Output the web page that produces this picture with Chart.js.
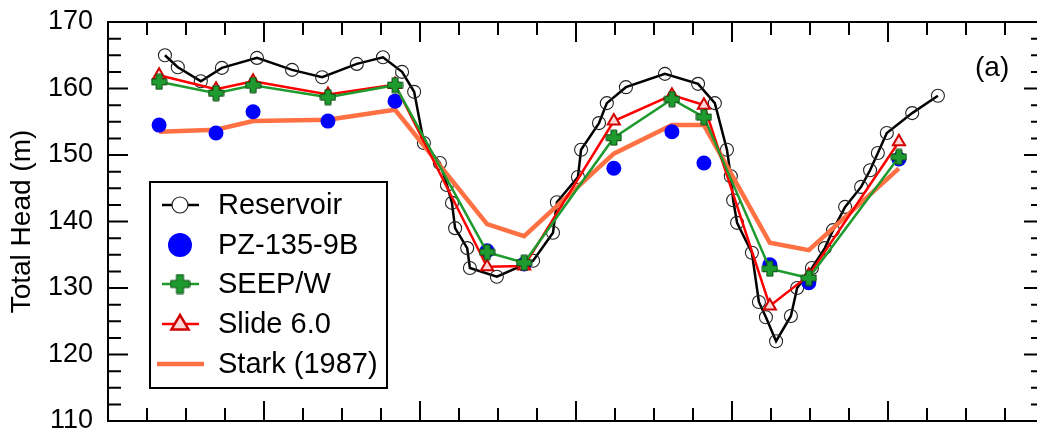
<!DOCTYPE html>
<html><head><meta charset="utf-8">
<script src="https://cdn.jsdelivr.net/npm/chart.js@4/dist/chart.umd.min.js"></script>
<style>html,body{margin:0;padding:0;background:#fff}#wrap{width:1037px;height:432px;position:relative}</style>
</head><body><div id="wrap"><canvas id="c" width="1037" height="432"></canvas></div>
<script>
// ---- data (x in months from start of record) ----
const reservoirX = [1.46,1.79,2.38,2.92,3.82,4.72,5.49,6.38,7.05,7.54,7.85,8.10,8.51,8.69,8.82,8.90,9.21,9.28,9.97,10.90,11.41,11.51,12.05,12.13,12.59,12.79,13.28,14.28,15.13,15.56,15.87,15.97,16.03,16.13,16.51,16.69,16.87,17.13,17.51,17.67,18.05,18.38,18.59,18.90,19.31,19.54,19.74,19.97,20.62,21.28];
const reservoirHead = [165.0,163.2,161.1,163.1,164.6,162.8,161.7,163.7,164.7,162.5,159.5,151.8,148.8,145.5,142.8,139.0,136.0,133.0,131.7,134.1,138.3,142.9,146.7,150.8,154.8,157.8,160.2,162.2,160.7,157.8,150.8,146.8,143.2,139.8,135.3,127.9,125.6,122.0,125.8,130.0,133.0,136.0,138.7,142.2,145.2,147.7,150.3,153.3,156.3,158.9];
const measureX = [1.31,2.77,3.72,5.64,7.36,9.72,10.67,12.97,14.46,15.28,16.97,17.97,20.28];
const pzHead    = [154.5,153.3,156.5,155.1,158.1,135.6,133.6,148.0,153.5,148.8,133.5,130.8,149.4];
const seepHead  = [161.0,159.3,160.5,158.7,160.5,135.4,133.8,152.6,158.4,155.7,132.9,131.5,149.7];
const slideHead = [162.0,159.9,161.1,159.1,160.6,133.2,133.3,155.1,159.0,157.5,127.3,131.9,152.0];
const starkHead = [153.5,153.8,155.1,155.3,156.8,139.6,137.8,150.2,154.5,154.5,136.8,135.7,148.0];
const yTickValues = [110,120,130,140,150,160,170];
const seriesNames = ['Reservoir','PZ-135-9B','SEEP/W','Slide 6.0','Stark (1987)'];
const panelLabel = '(a)';
const yTitle = 'Total Head (m)';

const FONT = "'Liberation Sans', Arial, sans-serif";
const pts = (xs, ys) => xs.map((x, i) => ({x, y: ys[i]}));

function plusImage(size, arm, fill, stroke) {
  const c = document.createElement('canvas');
  c.width = c.height = size;
  const g = c.getContext('2d');
  const m = size / 2, h = arm / 2, e = 1;
  g.beginPath();
  g.moveTo(m - h, e); g.lineTo(m + h, e); g.lineTo(m + h, m - h); g.lineTo(size - e, m - h);
  g.lineTo(size - e, m + h); g.lineTo(m + h, m + h); g.lineTo(m + h, size - e); g.lineTo(m - h, size - e);
  g.lineTo(m - h, m + h); g.lineTo(e, m + h); g.lineTo(e, m - h); g.lineTo(m - h, m - h); g.closePath();
  g.fillStyle = fill; g.fill();
  g.lineWidth = 1; g.strokeStyle = stroke; g.stroke();
  return c;
}
const plusImg = plusImage(17, 6, '#1f9a2e', '#0b4d12');

const datasets = [
  {label: seriesNames[0], data: pts(reservoirX, reservoirHead), borderColor: '#000', borderWidth: 2.5,
   pointStyle: 'circle', pointRadius: 6.5, pointBorderColor: '#222', pointBorderWidth: 1.1,
   pointBackgroundColor: 'rgba(0,0,0,0)', order: 4},
  {label: seriesNames[1], data: pts(measureX, pzHead), showLine: false, borderColor: '#0000ff',
   pointStyle: 'circle', pointRadius: 7.5, pointBackgroundColor: '#0000ff', pointBorderColor: '#0000ff',
   pointBorderWidth: 0, order: 2},
  {label: seriesNames[2], data: pts(measureX, seepHead), borderColor: '#1f9a2e', borderWidth: 2.5,
   pointStyle: plusImg, pointRadius: 8.5, order: 0},
  {label: seriesNames[3], data: pts(measureX, slideHead), borderColor: '#ff0000', borderWidth: 2.5,
   pointStyle: 'triangle', pointRadius: 7, pointBorderColor: '#d00000', pointBorderWidth: 2,
   pointBackgroundColor: '#ffd6d6', order: 1},
  {label: seriesNames[4], data: pts(measureX, starkHead), borderColor: '#ff7043', borderWidth: 4.5,
   pointRadius: 0, order: 3}
];
datasets.forEach(d => { d.tension = 0; d.fill = false; d.clip = false; });

// place the plot frame where the reference has it
const FRAME = {left: 108, top: 22, right: 1044, bottom: 421};
const fixFrame = {
  id: 'fixFrame',
  afterLayout(chart) {
    const a = chart.chartArea;
    a.left = FRAME.left; a.top = FRAME.top; a.right = FRAME.right; a.bottom = FRAME.bottom;
    a.width = a.right - a.left; a.height = a.bottom - a.top;
    const x = chart.scales.x, y = chart.scales.y;
    x.left = a.left; x.right = a.right; x.width = a.width; x.top = a.bottom; x.bottom = a.bottom; x.height = 0;
    y.left = 0; y.right = a.left; y.width = a.left; y.top = a.top; y.bottom = a.bottom; y.height = a.height;
    x.configure(); y.configure();
  }
};

const frameTicks = {
  id: 'frameTicks',
  afterDraw(chart) {
    const {ctx, chartArea: a, scales: {x, y}} = chart;
    ctx.save();
    ctx.strokeStyle = '#000'; ctx.lineWidth = 2; ctx.lineCap = 'butt';
    ctx.beginPath();
    ctx.moveTo(a.left - 1, a.top); ctx.lineTo(a.right + 1, a.top);
    ctx.moveTo(a.right, a.top); ctx.lineTo(a.right, a.bottom);
    for (let v = x.min; v <= x.max + 1e-6; v += 1) {
      const px = x.getPixelForValue(v);
      const len = (Math.round(v) % 4 === 0) ? 20 : 13;
      ctx.moveTo(px, a.bottom); ctx.lineTo(px, a.bottom - len);
      ctx.moveTo(px, a.top); ctx.lineTo(px, a.top + len);
    }
    for (let v = y.min; v <= y.max + 1e-6; v += 2.5) {
      const py = y.getPixelForValue(v);
      const len = (Math.round(v * 10) % 100 === 0) ? 20 : 13;
      ctx.moveTo(a.left, py); ctx.lineTo(a.left + len, py);
      ctx.moveTo(a.right, py); ctx.lineTo(a.right - len, py);
    }
    ctx.stroke();
    ctx.fillStyle = '#000';
    ctx.font = '28px ' + FONT;
    ctx.textAlign = 'left'; ctx.textBaseline = 'middle';
    ctx.fillText(panelLabel, 975, 68);
    ctx.restore();
  }
};

const boxLegend = {
  id: 'boxLegend',
  afterDraw(chart) {
    const ctx = chart.ctx;
    const order = [0, 1, 2, 3, 4];
    const bx = 150, by = 182, bw = 237, bh = 206;
    const rowY = [205, 245, 284, 324, 364];
    ctx.save();
    ctx.fillStyle = '#fff';
    ctx.fillRect(bx, by, bw, bh);
    ctx.strokeStyle = '#000'; ctx.lineWidth = 2;
    ctx.strokeRect(bx, by, bw, bh);
    order.forEach((di, r) => {
      const d = chart.data.datasets[di];
      const cy = rowY[r], cx = 180;
      if (d.showLine !== false) {
        ctx.beginPath(); ctx.strokeStyle = d.borderColor; ctx.lineWidth = d.borderWidth;
        ctx.moveTo(di === 4 ? 157 : 162, cy); ctx.lineTo(di === 4 ? 204 : 199, cy); ctx.stroke();
      }
      if (di === 0) {
        ctx.beginPath(); ctx.arc(cx, cy, 8, 0, Math.PI * 2);
        ctx.strokeStyle = '#222'; ctx.lineWidth = 1.2; ctx.fillStyle = '#fff'; ctx.fill(); ctx.stroke();
      } else if (di === 1) {
        ctx.beginPath(); ctx.arc(cx, cy, 12, 0, Math.PI * 2); ctx.fillStyle = '#0000ff'; ctx.fill();
      } else if (di === 2) {
        ctx.drawImage(plusImage(21, 7, '#1f9a2e', '#0b4d12'), cx - 10.5, cy - 10.5);
      } else if (di === 3) {
        const r = 9;
        ctx.beginPath();
        ctx.moveTo(cx, cy - r); ctx.lineTo(cx + r * 0.95, cy + r * 0.6); ctx.lineTo(cx - r * 0.95, cy + r * 0.6); ctx.closePath();
        ctx.fillStyle = '#ffd6d6'; ctx.fill(); ctx.strokeStyle = '#d00000'; ctx.lineWidth = 2.5; ctx.stroke();
      }
      ctx.fillStyle = '#000'; ctx.font = '29px ' + FONT;
      ctx.textAlign = 'left'; ctx.textBaseline = 'middle';
      ctx.fillText(d.label, 218, cy + 1);
    });
    ctx.restore();
  }
};

const chart = new Chart(document.getElementById('c'), {
  type: 'line',
  data: {datasets},
  options: {
    responsive: false, animation: false, devicePixelRatio: 1,
    layout: {padding: {top: 22, bottom: 11, left: 0, right: 0}},
    plugins: {legend: {display: false}, tooltip: {enabled: false}},
    scales: {
      x: {type: 'linear', min: 0, max: 24, position: 'bottom',
          ticks: {display: false}, grid: {drawOnChartArea: false, drawTicks: false},
          border: {display: true, color: '#000', width: 2},
          afterFit(s) { s.height = 0; }},
      y: {type: 'linear', min: 110, max: 170, position: 'left',
          afterBuildTicks(s) { s.ticks = yTickValues.map(v => ({value: v})); },
          ticks: {color: '#000', padding: 15, font: {family: FONT, size: 27}},
          grid: {drawOnChartArea: false, drawTicks: false},
          border: {display: true, color: '#000', width: 2},
          title: {display: true, text: yTitle, color: '#000', font: {family: FONT, size: 28}, padding: {top: 5, bottom: 0}},
          afterFit(s) { s.width = 108; }}
    }
  },
  plugins: [fixFrame, frameTicks, boxLegend]
});
</script></body></html>
